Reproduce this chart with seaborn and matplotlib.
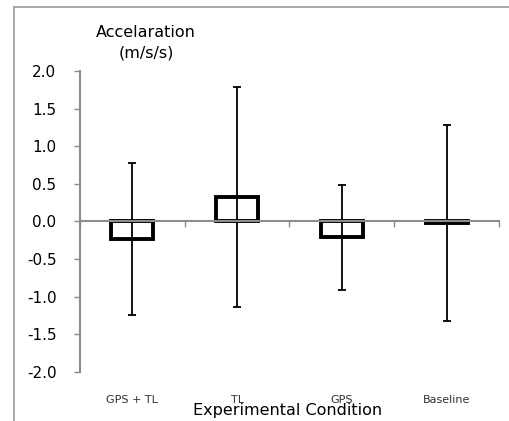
import matplotlib
matplotlib.use("Agg")
import matplotlib.pyplot as plt
import seaborn as sns
import pandas as pd
from matplotlib.lines import Line2D
import matplotlib.transforms as mtransforms

# values
conditions = ["GPS + TL", "TL", "GPS", "Baseline"]
mean_accel = [-0.23, 0.33, -0.21, -0.02]
sd_accel = [1.01, 1.46, 0.70, 1.30]

df = pd.DataFrame({"condition": conditions, "accel": mean_accel})

sns.set_style("white")
plt.rcParams["font.family"] = ["DejaVu Sans"]

fig = plt.figure(figsize=(5.10, 4.21), dpi=100)
ax = fig.add_axes([80 / 510, 49 / 421, 419 / 510, 301 / 421])

sns.barplot(data=df, x="condition", y="accel", ax=ax, width=0.4,
            color="white", edgecolor="black", linewidth=2.8, errorbar=None)
ax.errorbar(range(len(conditions)), mean_accel, yerr=sd_accel, fmt="none",
            ecolor="black", elinewidth=1.3, capsize=3, capthick=1.3, zorder=4)

ax.set_ylim(-2, 2)
ax.set_xlim(-0.5, len(conditions) - 0.5)
ax.set_yticks([-2.0, -1.5, -1.0, -0.5, 0.0, 0.5, 1.0, 1.5, 2.0])
ax.set_yticklabels([f"{v:.1f}" for v in ax.get_yticks()])

# category boundary ticks along the zero line, labels placed at the bottom
ax.set_xticks([i - 0.5 for i in range(len(conditions) + 1)])
ax.set_xticklabels([])
ax.set_xlabel("")
ax.set_ylabel("")

for side in ["top", "right"]:
    ax.spines[side].set_visible(False)
ax.spines["bottom"].set_position(("data", 0))
for side in ["left", "bottom"]:
    ax.spines[side].set_color("#8c8c8c")
    ax.spines[side].set_linewidth(1.5)
    ax.spines[side].set_zorder(5)
ax.tick_params(axis="y", direction="out", length=4, width=1, color="#8c8c8c",
               labelsize=11, pad=13, left=True, labelcolor="black")
ax.tick_params(axis="x", direction="out", length=4, width=1, color="#8c8c8c",
               bottom=True)

trans = mtransforms.blended_transform_factory(ax.transData, fig.transFigure)
for i, name in enumerate(conditions):
    ax.text(i, 1 - 400 / 421, name, transform=trans, ha="center", va="center",
            fontsize=8, color="#303030")

fig.text(288 / 510, 1 - 411 / 421, "Experimental Condition", ha="center",
         va="center", fontsize=11.5, color="black")
fig.text(146 / 510, 1 - 43 / 421, "Accelaration\n(m/s/s)", ha="center",
         va="center", fontsize=11.5, linespacing=1.45, color="black")

# outer chart-area frame (top and left edges, the rest runs off the image)
frame_kw = dict(transform=fig.transFigure, color="#a0a0a0", linewidth=1.3)
fig.add_artist(Line2D([14 / 510, 1.2], [1 - 7 / 421, 1 - 7 / 421], **frame_kw))
fig.add_artist(Line2D([14 / 510, 14 / 510], [1 - 7 / 421, -0.2], **frame_kw))

fig.savefig("out.png", dpi=100)
